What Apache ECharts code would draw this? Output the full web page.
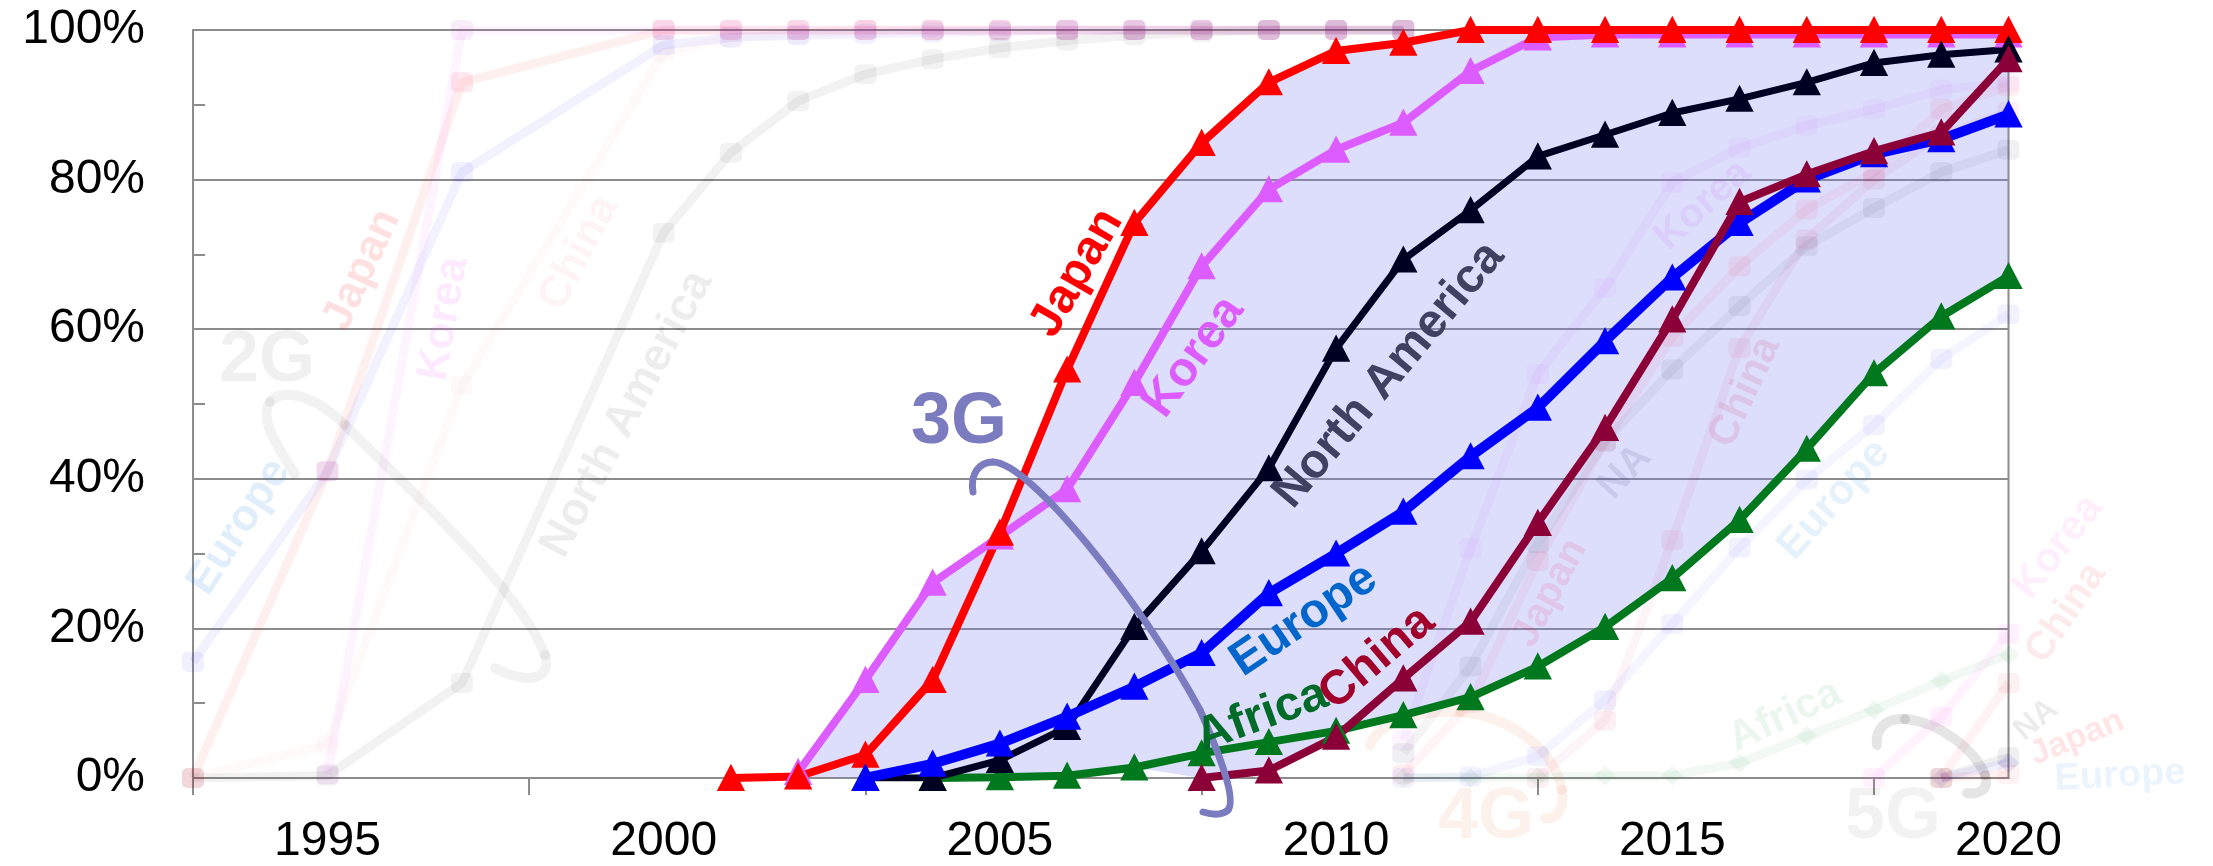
<!DOCTYPE html>
<html><head><meta charset="utf-8">
<script src="https://cdn.jsdelivr.net/npm/echarts@6/dist/echarts.min.js"></script>
<style>html,body{margin:0;padding:0;background:#fff}#c{width:2213px;height:866px}</style>
</head><body><div id="c"></div>
<script>
const FONT = '"Liberation Sans", Arial, sans-serif';

// ---- axis ticks / labels ----
const xLabelYears = [1995, 2000, 2005, 2010, 2015, 2020];
const xTickYears = [1993, 1998, 2003, 2008, 2013, 2018];

// ---- 3G adoption (%) : first year + yearly values ----
const japan3GStart = 2001;
const japan3G = [0, 0.2, 3.1, 13.1, 32.8, 54.6, 74.2, 84.9, 93.0, 97.2, 98.3, 100, 100, 100, 100, 100, 100, 100, 100, 100];
const korea3GStart = 2002;
const korea3G = [0.8, 13.1, 26.1, 32.3, 38.6, 52.8, 68.4, 78.7, 84.0, 87.6, 94.5, 99.0, 99.4, 99.4, 99.4, 99.4, 99.4, 99.4, 99.4];
const na3GStart = 2003;
const na3G = [0, 0, 2.4, 6.8, 20.2, 30.3, 41.4, 57.4, 69.3, 75.9, 83.1, 86.0, 88.9, 90.8, 93.0, 95.6, 96.7, 97.4];
const europe3GStart = 2003;
const europe3G = [0, 1.9, 4.6, 8.2, 12.2, 16.7, 24.7, 30.0, 35.6, 43.0, 49.5, 58.4, 66.9, 74.2, 80.0, 83.4, 85.4, 88.7];
const china3GStart = 2008;
const china3G = [0, 1.0, 5.5, 13.3, 20.9, 34.1, 46.8, 61.3, 77.0, 80.7, 83.8, 86.3, 96.1];
const africa3GStart = 2004;
const africa3G = [0, 0.1, 0.3, 1.4, 3.3, 4.8, 6.3, 8.4, 10.8, 14.9, 20.2, 26.7, 34.5, 44.0, 54.1, 61.7, 67.1];

// ---- 2G (faded background) ----
const years2G = [1993, 1995, 1997, 2000, 2001, 2002, 2003, 2004, 2005, 2006, 2007, 2008, 2009, 2010, 2011];
const japan2G  = [0, 41, 93, 100, 100, 100, 100, 100, 100, 100, 100, 100, 100, 100, 100];
const korea2G  = [null, 0.5, 100, 100, 100, 100, 100, 100, 100, 100, 100, 100, 100, 100, 100];
const europe2G = [15.5, 41, 81, 98, 99, 99.3, 99.5, 99.7, 99.8, 100, 100, 100, 100, 100, 100];
const na2G     = [0, 0.3, 12.7, 72.9, 83.6, 90.5, 94.1, 96.1, 97.6, 98.6, 99.3, 99.7, 100, 100, 100];
const china2G  = [0, 4.5, 52.5, 97, 99, 99.5, 100, 100, 100, 100, 100, 100, 100, 100, 100];

// ---- 4G (faded background) ----
const years4G = [2011, 2012, 2013, 2014, 2015, 2016, 2017, 2018, 2019, 2020];
const japan4G  = [0.5, 10, 29, 45, 59, 68.4, 76, 81, 89.4, 92.5];
const korea4G  = [5, 30.7, 54, 65.5, 79.6, 84.3, 87.2, 89.4, 92, 93];
const na4G     = [3.3, 14.9, 31.4, 45, 54.6, 63.1, 71.1, 76.2, 81, 84];
const china4G  = [null, null, 0, 7.7, 31.8, 57.5, 72, 80, 86, 89];
const europe4G = [0, 0.2, 2.9, 10.4, 20.6, 30.8, 39.9, 47.2, 56, 62];
const africa4G = [0, 0, 0.1, 0.3, 0.3, 2, 5.6, 9.1, 13, 16.5];

// ---- 5G (faded background) ----
const years5G = [2018, 2019, 2020];
const korea5G  = [0, 8.2, 19.3];
const china5G  = [null, 0, 12.7];
const na5G     = [null, 0, 2.8];
const japan5G  = [null, 0, 0.5];
const europe5G = [null, 0, 2];

function seq(start, values) { return values.map((v, i) => [start + i, v]).filter(p => p[1] != null); }
function zipY(years, values) { return values.map((v, i) => [years[i], v]).filter(p => p[1] != null); }

const bold3G = [
  { start: japan3GStart, values: japan3G },
  { start: korea3GStart, values: korea3G },
  { start: na3GStart, values: na3G },
  { start: europe3GStart, values: europe3G },
  { start: china3GStart, values: china3G },
  { start: africa3GStart, values: africa3G }
];
const envUpper = [], envLower = [];
for (let y = 1993; y <= 2020; y++) {
  const vals = bold3G.map(s => { const i = y - s.start; return (i >= 0 && i < s.values.length) ? s.values[i] : null; }).filter(v => v != null);
  if (vals.length >= 2) { envUpper.push([y, Math.max(...vals)]); envLower.push([y, Math.min(...vals)]); }
}

function ghost(name, data, color, markColor, symbol) {
  return {
    name, type: 'line', z: 3, data, symbol: symbol || 'roundRect', symbolSize: [22, 20],
    lineStyle: { color, width: 9 }, itemStyle: { color: markColor }, emphasis: { disabled: true }, silent: true
  };
}
function boldLine(name, data, color, width, z) {
  return {
    name, type: 'line', z: z, data, symbol: 'triangle', symbolSize: [25, 24],
    lineStyle: { color, width }, itemStyle: { color, borderColor: color, borderWidth: 2 },
    emphasis: { disabled: true }, silent: true
  };
}

const series = [
  {
    type: 'custom', z: 2, silent: true, data: [[2002, 0]], encode: { x: 0, y: 1 },
    renderItem: (params, api) => {
      const pts = envUpper.map(p => api.coord(p)).concat(envLower.slice().reverse().map(p => api.coord(p)));
      return { type: 'polygon', shape: { points: pts }, style: { fill: 'rgba(120,120,245,0.25)' } };
    }
  },
  ghost('Japan 2G', zipY(years2G, japan2G), 'rgba(255,0,0,0.06)', 'rgba(255,0,60,0.09)'),
  ghost('Korea 2G', zipY(years2G, korea2G), 'rgba(230,60,255,0.06)', 'rgba(200,60,200,0.09)'),
  ghost('Europe 2G', zipY(years2G, europe2G), 'rgba(40,40,255,0.06)', 'rgba(40,40,255,0.07)'),
  ghost('NA 2G', zipY(years2G, na2G), 'rgba(0,0,0,0.05)', 'rgba(0,0,0,0.05)'),
  ghost('China 2G', zipY(years2G, china2G), 'rgba(230,60,60,0.025)', 'rgba(230,60,60,0.025)'),
  ghost('Japan 4G', zipY(years4G, japan4G), 'rgba(255,0,40,0.045)', 'rgba(255,0,40,0.06)'),
  ghost('Korea 4G', zipY(years4G, korea4G), 'rgba(200,80,255,0.05)', 'rgba(200,80,255,0.06)'),
  ghost('NA 4G', zipY(years4G, na4G), 'rgba(0,0,30,0.045)', 'rgba(0,0,30,0.06)'),
  ghost('China 4G', zipY(years4G, china4G), 'rgba(200,0,60,0.045)', 'rgba(200,0,60,0.06)'),
  ghost('Europe 4G', zipY(years4G, europe4G), 'rgba(30,30,255,0.045)', 'rgba(30,30,255,0.06)'),
  ghost('Africa 4G', zipY(years4G, africa4G), 'rgba(0,140,40,0.05)', 'rgba(0,140,40,0.06)', 'diamond'),
  ghost('Korea 5G', zipY(years5G, korea5G), 'rgba(255,60,230,0.06)', 'rgba(255,60,230,0.07)'),
  ghost('China 5G', zipY(years5G, china5G), 'rgba(230,40,40,0.06)', 'rgba(230,40,40,0.07)'),
  ghost('NA 5G', zipY(years5G, na5G), 'rgba(0,0,0,0.06)', 'rgba(0,0,0,0.06)'),
  ghost('Japan 5G', zipY(years5G, japan5G), 'rgba(255,0,0,0.05)', 'rgba(255,0,0,0.05)'),
  ghost('Europe 5G', zipY(years5G, europe5G), 'rgba(40,40,255,0.07)', 'rgba(60,40,200,0.1)', 'diamond'),
  boldLine('Africa', seq(africa3GStart, africa3G), '#00781E', 8, 4),
  boldLine('Korea', seq(korea3GStart, korea3G), '#DD5CFF', 8, 4),
  boldLine('Japan', seq(japan3GStart, japan3G), '#FF0000', 8, 4),
  boldLine('North America', seq(na3GStart, na3G), '#000022', 7, 4),
  boldLine('Europe', seq(europe3GStart, europe3G), '#0000FF', 10, 4),
  boldLine('China', seq(china3GStart, china3G), '#8C0038', 8, 4)
];

// ---- annotations ----
const boldLabels = [
  { t: 'Japan', x: 1077, y: 273, r: 60, s: 48, c: '#FF0000' },
  { t: 'Korea', x: 1194, y: 357, r: 54, s: 48, c: '#DD5CFF' },
  { t: 'North America', x: 1389, y: 375, r: 50, s: 48, c: '#404060' },
  { t: 'Europe', x: 1304, y: 620, r: 34, s: 48, c: '#0066CC' },
  { t: 'China', x: 1377, y: 658, r: 40, s: 48, c: '#A0002A' },
  { t: 'Africa', x: 1262, y: 716, r: 20, s: 48, c: '#006B28' },
  { t: '3G', x: 959, y: 423, r: 0, s: 72, c: '#7B7BC0' }
];
const ghostLabels = [
  { t: 'Japan', x: 362, y: 270, r: 65, s: 44, c: 'rgba(255,0,0,0.12)' },
  { t: 'Korea', x: 444, y: 319, r: 80, s: 44, c: 'rgba(235,80,255,0.12)' },
  { t: 'China', x: 579, y: 253, r: 62, s: 44, c: 'rgba(230,40,60,0.05)' },
  { t: 'North America', x: 627, y: 414, r: 62, s: 46, c: 'rgba(0,0,0,0.07)' },
  { t: 'Europe', x: 239, y: 527, r: 57, s: 44, c: 'rgba(0,110,210,0.12)' },
  { t: '2G', x: 267, y: 361, r: 0, s: 72, c: 'rgba(0,0,0,0.06)' },
  { t: 'Japan', x: 1550, y: 593, r: 62, s: 40, c: 'rgba(255,0,60,0.1)' },
  { t: 'NA', x: 1625, y: 472, r: 47, s: 40, c: 'rgba(0,0,40,0.09)' },
  { t: 'China', x: 1745, y: 392, r: 65, s: 42, c: 'rgba(220,0,60,0.1)' },
  { t: 'Korea', x: 1703, y: 205, r: 42, s: 40, c: 'rgba(220,80,255,0.1)' },
  { t: 'Europe', x: 1834, y: 500, r: 48, s: 42, c: 'rgba(0,120,220,0.1)' },
  { t: 'Africa', x: 1785, y: 716, r: 25, s: 42, c: 'rgba(0,140,50,0.08)' },
  { t: '4G', x: 1486, y: 818, r: 0, s: 72, c: 'rgba(240,120,70,0.1)' },
  { t: 'Korea', x: 2058, y: 547, r: 52, s: 42, c: 'rgba(255,80,230,0.09)' },
  { t: 'China', x: 2066, y: 613, r: 56, s: 40, c: 'rgba(240,60,60,0.11)' },
  { t: 'NA', x: 2036, y: 720, r: 40, s: 32, c: 'rgba(0,0,0,0.08)' },
  { t: 'Japan', x: 2077, y: 738, r: 22, s: 34, c: 'rgba(255,40,40,0.12)' },
  { t: 'Europe', x: 2120, y: 776, r: 3, s: 38, c: 'rgba(0,110,220,0.08)' },
  { t: '5G', x: 1893, y: 818, r: 0, s: 72, c: 'rgba(0,0,0,0.05)' }
];
// brackets as chains of cubic segments: start point, then [cp1x,cp1y,cp2x,cp2y,x,y] ...
const brackets = [
  { p: [295, 474, [280, 450, 258, 420, 270, 402], [285, 385, 320, 400, 345, 425], [420, 500, 520, 590, 545, 655], [552, 678, 530, 686, 495, 668]], c: 'rgba(0,0,0,0.05)', w: 10, z: 3 },
  { p: [1370, 745, [1378, 722, 1420, 710, 1460, 712], [1510, 716, 1555, 750, 1562, 790], [1565, 810, 1555, 820, 1545, 818]], c: 'rgba(240,120,70,0.1)', w: 10, z: 3 },
  { p: [1877, 745, [1875, 725, 1890, 718, 1905, 719], [1940, 722, 1975, 750, 1985, 775], [1990, 790, 1978, 795, 1967, 793]], c: 'rgba(0,0,0,0.1)', w: 10, z: 3 },
  { p: [973, 492, [970, 474, 979, 462, 993, 462], [1030, 462, 1140, 600, 1200, 710], [1222, 760, 1236, 800, 1228, 810], [1222, 816, 1210, 814, 1203, 812]], c: '#7B7BC0', w: 7, z: 6 }
];

function textEl(l, z) {
  return {
    type: 'text', x: l.x, y: l.y, rotation: l.r * Math.PI / 180, z, silent: true,
    style: { text: l.t, fill: l.c, fontSize: l.s, fontWeight: 'bold', fontFamily: FONT, align: 'center', verticalAlign: 'middle' }
  };
}
function bracketEls(b) {
  const els = [];
  let x = b.p[0], y = b.p[1];
  for (let i = 2; i < b.p.length; i++) {
    const s = b.p[i];
    els.push({ type: 'bezierCurve', z: b.z, silent: true,
      shape: { x1: x, y1: y, cpx1: s[0], cpy1: s[1], cpx2: s[2], cpy2: s[3], x2: s[4], y2: s[5] },
      style: { fill: null, stroke: b.c, lineWidth: b.w, lineCap: 'round' } });
    x = s[4]; y = s[5];
  }
  return els;
}
let graphic = ghostLabels.map(l => textEl(l, 3));
brackets.forEach(b => { graphic = graphic.concat(bracketEls(b)); });
graphic = graphic.concat(boldLabels.map(l => textEl(l, 6)));

const chart = echarts.init(document.getElementById('c'), null, { renderer: 'canvas' });
chart.setOption({
  animation: false,
  backgroundColor: '#fff',
  grid: { left: 193, right: 204.5, top: 30, bottom: 87, show: true, borderColor: '#8c8c8c', borderWidth: 2, backgroundColor: 'transparent' },
  xAxis: {
    type: 'value', min: 1993, max: 2020,
    axisLine: { show: true, lineStyle: { color: '#8c8c8c', width: 2 } },
    axisTick: { show: true, customValues: xTickYears, length: 17, lineStyle: { color: '#8c8c8c', width: 2 } },
    axisLabel: { customValues: xLabelYears, formatter: v => String(v), fontSize: 48, fontFamily: FONT, color: '#000', margin: 40 },
    splitLine: { show: false }
  },
  yAxis: {
    type: 'value', min: 0, max: 100, interval: 20,
    axisLine: { show: true, lineStyle: { color: '#8c8c8c', width: 2 } },
    axisTick: { show: true, inside: true, length: 12, lineStyle: { color: '#8c8c8c', width: 2 } },
    minorTick: { show: true, splitNumber: 2, length: 12, lineStyle: { color: '#8c8c8c', width: 2 } },
    axisLabel: { formatter: '{value}%', fontSize: 48, fontFamily: FONT, color: '#000', margin: 48 },
    splitLine: { show: true, lineStyle: { color: '#8c8c8c', width: 2 } }
  },
  series,
  graphic
});
</script></body></html>
